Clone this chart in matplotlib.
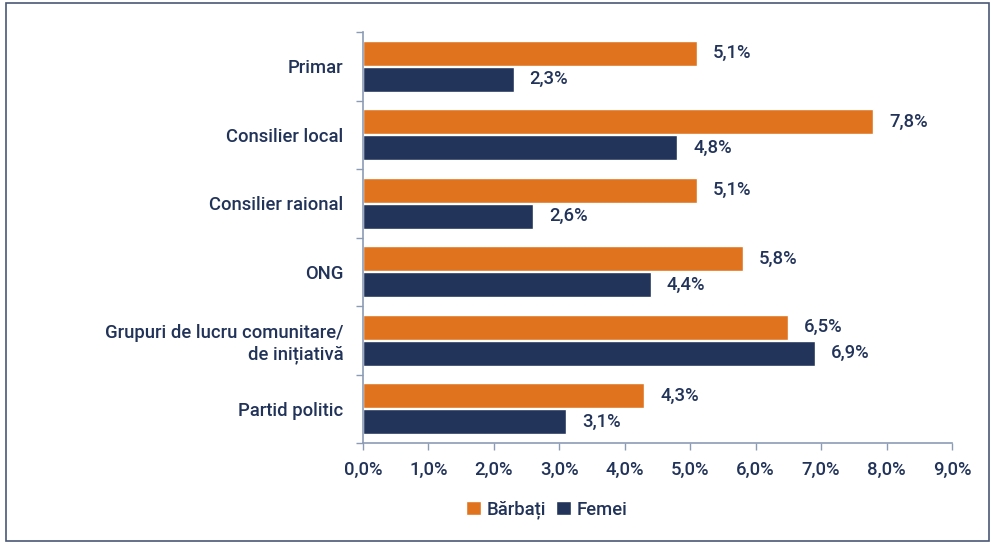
import numpy as np
import matplotlib.pyplot as plt
from matplotlib.patches import Rectangle
from matplotlib.ticker import FixedLocator

plt.rcParams['font.family'] = ['Roboto', 'DejaVu Sans']

categories = ['Primar', 'Consilier local', 'Consilier raional', 'ONG',
              'Grupuri de lucru comunitare/\nde inițiativă', 'Partid politic']
barbati = [5.1, 7.8, 5.1, 5.8, 6.5, 4.3]
femei = [2.3, 4.8, 2.6, 4.4, 6.9, 3.1]
xticks = [0, 1, 2, 3, 4, 5, 6, 7, 8, 9]

ORANGE = '#E0731E'
NAVY = '#22345A'
TEXT = '#22335A'
SPINE = '#8C9BB5'
FS = 13.3

fig = plt.figure(figsize=(9.91, 5.42), dpi=100)
ax = fig.add_axes([363 / 991, 1 - 443 / 542, (952 - 363) / 991, (443 - 32) / 542])

y = np.arange(len(categories))
h = 0.36
off = 0.19
b1 = ax.barh(y - off, barbati, height=h, color=ORANGE, edgecolor='white', linewidth=1, label='Bărbați')
b2 = ax.barh(y + off, femei, height=h, color=NAVY, edgecolor='white', linewidth=1, label='Femei')

for bars, vals in [(b1, barbati), (b2, femei)]:
    for rect, v in zip(bars, vals):
        ax.annotate(f'{v:.1f}%'.replace('.', ','),
                    (rect.get_width(), rect.get_y() + rect.get_height() / 2),
                    xytext=(11.5, 0), textcoords='offset points', va='center', ha='left',
                    fontsize=FS, fontweight='medium', color=TEXT)

ax.set_xlim(0, 9)
ax.set_ylim(len(categories) - 0.5, -0.5)
ax.set_xticks(xticks)
ax.set_xticklabels([f'{t:.1f}%'.replace('.', ',') for t in xticks])
ax.set_yticks(y)
ax.set_yticklabels(categories, ha='right')
ax.yaxis.set_minor_locator(FixedLocator(np.arange(-0.5, len(categories), 1)))
ax.tick_params(axis='y', which='major', length=0, pad=14)
ax.tick_params(axis='y', which='minor', length=5, color=SPINE, width=1)
ax.tick_params(axis='x', length=5, color=SPINE, width=1, pad=8)
for lab in ax.get_xticklabels() + ax.get_yticklabels():
    lab.set_fontsize(FS)
    lab.set_fontweight('medium')
    lab.set_color(TEXT)

for s in ['top', 'right']:
    ax.spines[s].set_visible(False)
for s in ['left', 'bottom']:
    ax.spines[s].set_color(SPINE)
    ax.spines[s].set_linewidth(1.2)

leg = fig.legend(handles=[b1, b2], loc='center', bbox_to_anchor=(547 / 991, 1 - 510 / 542),
                 ncol=2, frameon=False, handlelength=0.8, handleheight=0.8,
                 handletextpad=0.3, columnspacing=0.55,
                 prop={'size': FS, 'weight': 'medium'})
for t in leg.get_texts():
    t.set_color(TEXT)

fig.patches.append(Rectangle((6 / 991, 1 - 541 / 542), (989 - 6) / 991, (541 - 3) / 542,
                             transform=fig.transFigure, fill=False,
                             edgecolor='#4A5878', linewidth=1.2))

fig.savefig('out.png', dpi=100)
